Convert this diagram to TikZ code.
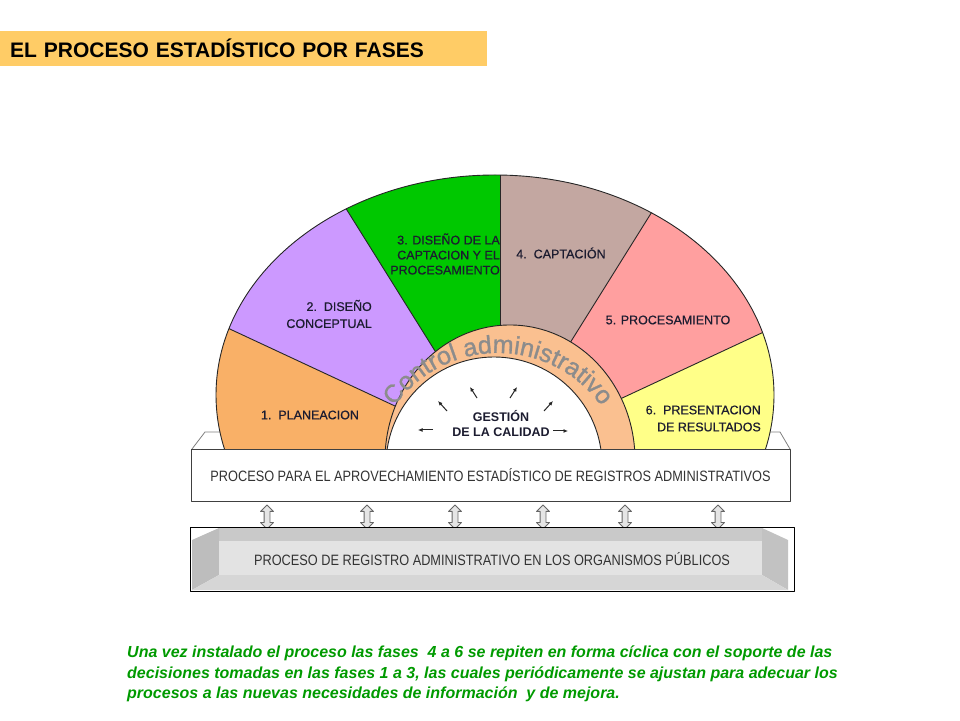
\documentclass[tikz,border=0pt]{standalone}
\usepackage{fontspec}
\usepackage{graphicx}
\setmainfont{Liberation Sans}
\newfontfamily\gruesaFam[FakeBold=0.6]{Liberation Sans}
\newfontfamily\bandaFam[FakeBold=1.2]{Liberation Sans}
\usepackage{tikz}
\newcommand*{\cX}{500}
\newcommand*{\cY}{265}
\newcommand*{\eX}{495}
\newcommand*{\eY}{325}
\newcommand*{\eRx}{279}
\newcommand*{\eRy}{220}
\newcommand*{\bandaFont}{\bandaFam\fontsize{25}{25}\selectfont}
\usetikzlibrary{positioning}
\usetikzlibrary{calc}
\usetikzlibrary{arrows.meta}
\usetikzlibrary{shapes.arrows}
\usetikzlibrary{decorations.text}
\definecolor{tituloNaranja}{HTML}{FFCC66}
\definecolor{faseUno}{HTML}{F9B067}
\definecolor{faseDos}{HTML}{CC99FF}
\definecolor{faseTres}{HTML}{00C800}
\definecolor{faseCuatro}{HTML}{C3A7A1}
\definecolor{faseCinco}{HTML}{FF9F9F}
\definecolor{faseSeis}{HTML}{FFFF88}
\definecolor{bandaTan}{HTML}{FAC090}
\definecolor{bandaTexto}{HTML}{8C8C8C}
\definecolor{textoFase}{HTML}{1C1C30}
\definecolor{textoBarra}{HTML}{333333}
\definecolor{notaVerde}{HTML}{009A00}
\tikzset{FasesStyle/.style={
    x=1pt,% one unit is one pixel of the slide
    y=1pt,
    line join=round,
    sectorLine/.style={draw=black!85, line width=0.9pt},
    faseLabel/.style={text=textoFase, inner sep=0pt,
      font=\gruesaFam\fontsize{12.5}{15}\selectfont},
    tituloBox/.style={fill=tituloNaranja, text width=467pt, align=left,
      inner xsep=10pt, inner ysep=0pt, minimum height=35pt,
      font=\bfseries\fontsize{21}{24}\selectfont},
    barBox/.style={draw=black!75, fill=white, line width=0.9pt,
      minimum width=599pt, minimum height=52pt, inner sep=0pt,
      text=textoBarra, font=\fontsize{15}{17}\selectfont},
    regBox/.style={draw=black, line width=0.9pt,
      minimum width=604pt, minimum height=64pt, inner sep=0pt,
      text=textoBarra, font=\fontsize{15}{17}\selectfont},
    dobleFlecha/.style={shape=double arrow, rotate=90, draw=black!60,
      fill=black!10, line width=0.9pt, inner xsep=0pt, inner ysep=2.5pt,
      minimum height=24pt, double arrow head extend=3.5pt},
    gestArrow/.style={-{Latex[length=4.5pt,width=4pt]}, line width=1pt,
      black!85},
    notaText/.style={text=notaVerde, align=left, inner sep=0pt,
      font=\bfseries\itshape\fontsize{16}{20.5}\selectfont}
  }
}
\begin{document}
\begin{tikzpicture}[FasesStyle]
    \useasboundingbox (0,0) rectangle (960,720);
    \node[tituloBox] (titulo) at (243.5,671.5) {EL PROCESO ESTADÍSTICO POR FASES};

    % back edge of the bar
    \filldraw[fill=white, draw=black!50, line width=0.8pt]
        (192,271) -- (205,288) -- (780,288) -- (790,271);

    \coordinate (O) at (\cX,\cY);
    \begin{scope}
        \clip (0,265) rectangle (960,720);
        \begin{scope}
            \clip (\eX,\eY) ellipse [x radius=\eRx, y radius=\eRy];
            \foreach \a/\b/\col in {155/200/faseUno, 122/155/faseDos,
                90/122/faseTres, 58/90/faseCuatro, 25/58/faseCinco,
                -20/25/faseSeis} {
                \fill[\col] (O) -- +(\a:600) -- +(\b:600) -- cycle;
            }
            \foreach \a in {25,58,90,122,155} {
                \draw[sectorLine] (O) -- +(\a:600);
            }
        \end{scope}
        \draw[sectorLine] (\eX,\eY) ellipse [x radius=\eRx, y radius=\eRy];
        \filldraw[sectorLine, fill=bandaTan] (510,260) ellipse [x radius=125, y radius=135];
        \filldraw[sectorLine, fill=white] (494,255) circle [radius=108];
        \path[decorate, decoration={text along path, text align=center,
            text={|\bandaFont\color{bandaTexto}|Control administrativo}}]
            (498,240) ++(143:127) arc [start angle=143, end angle=37, radius=127];
    \end{scope}

    \node[faseLabel] (f1) at (310,305) {1.\ \ PLANEACION};
    \node[faseLabel, align=right, anchor=east] (f2) at (372,406) {2.\ \ DISEÑO\\[2pt]CONCEPTUAL};
    \node[faseLabel, align=right, anchor=east] (f3) at (500,466) {3. DISEÑO DE LA\\CAPTACION Y EL\\PROCESAMIENTO};
    \node[faseLabel] (f4) at (561,467) {4.\ \ CAPTACIÓN};
    \node[faseLabel] (f5) at (668,400) {5. PROCESAMIENTO};
    \node[faseLabel, align=right, anchor=east] (f6) at (761,301.5) {6.\ \ PRESENTACION\\[2pt]DE RESULTADOS};
    \node[faseLabel, align=center, font=\bfseries\fontsize{12.5}{15}\selectfont]
        (gestion) at (501,296) {GESTIÓN\\DE LA CALIDAD};

    \foreach \tx/\ty/\hx/\hy [count=\k] in {433/290/418/290, 447/309/438/319,
        477/322/470/333, 510/322/517/333, 544/309/553/319, 553/289/568/289} {
        \coordinate (ga\k) at (\tx,\ty);
        \coordinate (gb\k) at (\hx,\hy);
        \draw[gestArrow] (ga\k) -- (gb\k);
    }

    \node[barBox] (apro) at (490.5,245)
        {\scalebox{0.85}[1]{PROCESO PARA EL APROVECHAMIENTO ESTADÍSTICO DE REGISTROS ADMINISTRATIVOS}};

    \foreach \x [count=\k] in {267,367,455,543,625,718} {
        \node[dobleFlecha] (da\k) at (\x,203) {};
    }

    % bevelled panel
    \fill[black!21] (219,192) rectangle (762,179);
    \fill[black!26] (192,180) -- (219,192) -- (219,145) -- (192,130) -- cycle;
    \fill[black!24] (788,180) -- (762,192) -- (762,145) -- (788,130) -- cycle;
    \fill[black!16] (192,130) -- (219,145) -- (762,145) -- (788,130) -- cycle;
    \fill[black!11] (219,179) rectangle (762,145);
    \node[regBox] (reg) at (492,161)
        {\scalebox{0.85}[1]{PROCESO DE REGISTRO ADMINISTRATIVO EN LOS ORGANISMOS PÚBLICOS}};

    \node[notaText, anchor=north west] (nota) at (127,74)
        {Una vez instalado el proceso las fases\ \ 4 a 6 se repiten en forma cíclica con el soporte de las\\
         decisiones tomadas en las fases 1 a 3, las cuales periódicamente se ajustan para adecuar los\\
         procesos a las nuevas necesidades de información\ \ y de mejora.};
\end{tikzpicture}
\end{document}
